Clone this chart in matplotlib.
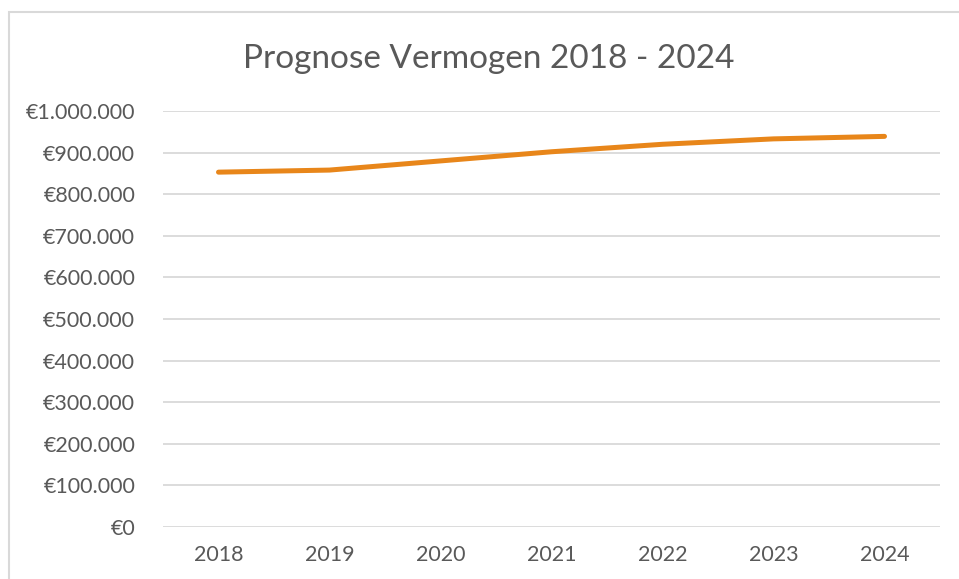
import matplotlib
matplotlib.use("Agg")
import matplotlib.pyplot as plt
from matplotlib.patches import Rectangle
from matplotlib.ticker import FuncFormatter

years = ["2018", "2019", "2020", "2021", "2022", "2023", "2024"]
vermogen = [853000, 858000, 880000, 902000, 920000, 933000, 939000]

text_color = "#595959"
grid_color = "#d9d9d9"
line_color = "#e8861a"

plt.rcParams["font.family"] = ["Lato", "DejaVu Sans"]

fig = plt.figure(figsize=(9.59, 5.79), dpi=100)
W, H = 959, 579

# chart border (only the left and top edge fall inside the crop)
fig.patches.append(Rectangle((8.5 / W, -0.1), 1.2, 1 - 12.5 / H + 0.1,
                             transform=fig.transFigure, fill=False,
                             edgecolor=grid_color, linewidth=1.5))

ax = fig.add_axes([163 / W, 1 - 527 / H, (940 - 163) / W, (527 - 111) / H])

x = range(len(years))
ax.plot(x, vermogen, color=line_color, linewidth=3.6, solid_capstyle="round",
        solid_joinstyle="round")

ax.set_xlim(-0.5, len(years) - 0.5)
ax.set_ylim(0, 1000000)
ax.set_yticks(range(0, 1000001, 100000))
ax.set_xticks(list(x))
ax.set_xticklabels(years)


def euro(v, pos):
    return "€" + f"{int(v):,}".replace(",", ".")


ax.yaxis.set_major_formatter(FuncFormatter(euro))
ax.grid(axis="y", color=grid_color, linewidth=1.3)
ax.set_axisbelow(True)
for s in ax.spines.values():
    s.set_visible(False)
ax.tick_params(length=0, colors=text_color, labelsize=15.5)
ax.tick_params(axis="y", pad=20)
ax.tick_params(axis="x", pad=13)

fig.text(489 / W, 1 - 59 / H, "Prognose Vermogen 2018 - 2024", ha="center",
         va="center", color=text_color, fontsize=24)

fig.savefig("out.png", dpi=100)
